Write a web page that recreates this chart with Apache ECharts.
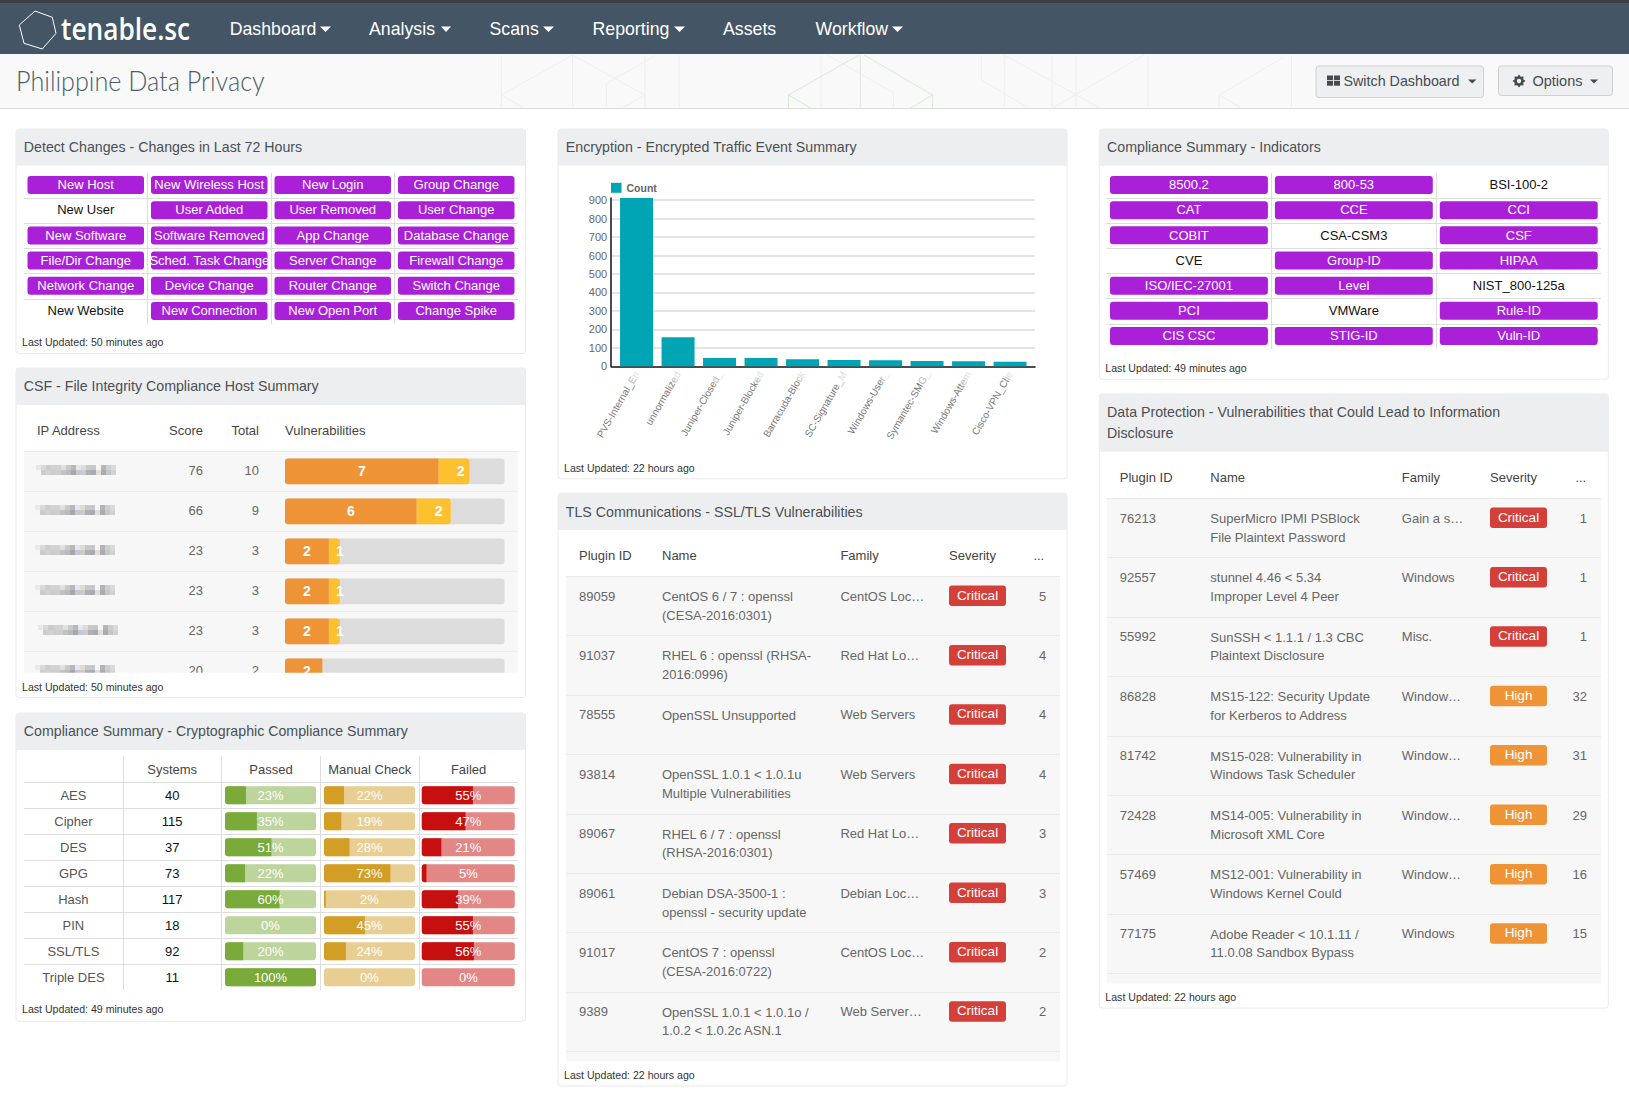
<!DOCTYPE html>
<html>
<head>
<meta charset="utf-8">
<title>Philippine Data Privacy</title>
<style>
  html, body { margin: 0; padding: 0; background: #fff; }
  #chart { width: 1629px; height: 1096px; }
</style>
<script src="https://cdn.jsdelivr.net/npm/echarts@6/dist/echarts.min.js"></script>
</head>
<body>
<div id="chart"></div>
<script>
// ---- data ----
const navItems = ['Dashboard', 'Analysis', 'Scans', 'Reporting', 'Assets', 'Workflow'];

const detectLabels = [
  'New Host', 'New Wireless Host', 'New Login', 'Group Change',
  'New User', 'User Added', 'User Removed', 'User Change',
  'New Software', 'Software Removed', 'App Change', 'Database Change',
  'File/Dir Change', 'Sched. Task Change', 'Server Change', 'Firewall Change',
  'Network Change', 'Device Change', 'Router Change', 'Switch Change',
  'New Website', 'New Connection', 'New Open Port', 'Change Spike'
];
const detectActive = [1,1,1,1, 0,1,1,1, 1,1,1,1, 1,1,1,1, 1,1,1,1, 0,1,1,1];

const indicatorLabels = [
  '8500.2', '800-53', 'BSI-100-2',
  'CAT', 'CCE', 'CCI',
  'COBIT', 'CSA-CSM3', 'CSF',
  'CVE', 'Group-ID', 'HIPAA',
  'ISO/IEC-27001', 'Level', 'NIST_800-125a',
  'PCI', 'VMWare', 'Rule-ID',
  'CIS CSC', 'STIG-ID', 'Vuln-ID'
];
const indicatorActive = [1,1,0, 1,1,1, 1,0,1, 0,1,1, 1,1,0, 1,0,1, 1,1,1];

const csfScores = [76, 66, 23, 23, 23, 20];
const csfTotals = [10, 9, 3, 3, 3, 2];
const csfHighCounts = [7, 6, 2, 2, 2, 2];
const csfMediumCounts = [2, 2, 1, 1, 1, 0];
const csfHighWidths = [70, 60, 20, 20, 20, 17];
const csfMediumWidths = [14, 15.5, 5, 5, 5, 0];
// the addresses are pixelated in the picture
const ipMosaicTop = ['#e8e8e6','#d8d8d8','#cccccc','#cfd1d3','#d0d2d4','#e2e0dc','#c8cacc','#b8b8b8','#e4e8ee','#dedcd8','#c8cac8','#c4c8c8','#f8f6f2','#b4b4ba','#ccced0','#d8dade'];
const ipMosaicBottom = ['#f6f6f6','#cccccc','#d4d2d0','#cccdce','#cdcdcd','#c2c2c2','#b8babc','#a8a8a8','#c4c8d0','#cccaca','#aeb0b2','#a8acb0','#e0dedc','#acacb0','#c4c6c8','#d0d2d4'];
const ipMosaicStart = [36, 35, 35, 35, 38, 35];

const cryptoNames = ['AES', 'Cipher', 'DES', 'GPG', 'Hash', 'PIN', 'SSL/TLS', 'Triple DES'];
const cryptoSystems = [40, 115, 37, 73, 117, 18, 92, 11];
const cryptoPassed = [23, 35, 51, 22, 60, 0, 20, 100];
const cryptoManual = [22, 19, 28, 73, 2, 45, 24, 0];
const cryptoFailed = [55, 47, 21, 5, 39, 55, 56, 0];

const eventNames = ['PVS-Internal_En', 'unnormalized', 'Juniper-Closed_', 'Juniper-Blocked', 'Barracuda-Block', 'SC-Signature_M', 'Windows-User_', 'Symantec-SMG_', 'Windows-Attem', 'Cisco-VPN_Clie'];
const eventCounts = [912, 157, 45, 45, 38, 34, 33, 29, 27, 25];

const tlsIds = ['89059', '91037', '78555', '93814', '89067', '89061', '91017', '9389'];
const tlsNames = [
  ['CentOS 6 / 7 : openssl', '(CESA-2016:0301)'],
  ['RHEL 6 : openssl (RHSA-', '2016:0996)'],
  ['OpenSSL Unsupported', ''],
  ['OpenSSL 1.0.1 < 1.0.1u', 'Multiple Vulnerabilities'],
  ['RHEL 6 / 7 : openssl', '(RHSA-2016:0301)'],
  ['Debian DSA-3500-1 :', 'openssl - security update'],
  ['CentOS 7 : openssl', '(CESA-2016:0722)'],
  ['OpenSSL 1.0.1 < 1.0.1o /', '1.0.2 < 1.0.2c ASN.1']
];
const tlsFamilies = ['CentOS Loc…', 'Red Hat Lo…', 'Web Servers', 'Web Servers', 'Red Hat Lo…', 'Debian Loc…', 'CentOS Loc…', 'Web Server…'];
const tlsSeverities = ['Critical', 'Critical', 'Critical', 'Critical', 'Critical', 'Critical', 'Critical', 'Critical'];
const tlsCounts = [5, 4, 4, 4, 3, 3, 2, 2];

const dpIds = ['76213', '92557', '55992', '86828', '81742', '72428', '57469', '77175'];
const dpNames = [
  ['SuperMicro IPMI PSBlock', 'File Plaintext Password'],
  ['stunnel 4.46 < 5.34', 'Improper Level 4 Peer'],
  ['SunSSH < 1.1.1 / 1.3 CBC', 'Plaintext Disclosure'],
  ['MS15-122: Security Update', 'for Kerberos to Address'],
  ['MS15-028: Vulnerability in', 'Windows Task Scheduler'],
  ['MS14-005: Vulnerability in', 'Microsoft XML Core'],
  ['MS12-001: Vulnerability in', 'Windows Kernel Could'],
  ['Adobe Reader < 10.1.11 /', '11.0.08 Sandbox Bypass']
];
const dpFamilies = ['Gain a s…', 'Windows', 'Misc.', 'Window…', 'Window…', 'Window…', 'Window…', 'Windows'];
const dpSeverities = ['Critical', 'Critical', 'Critical', 'High', 'High', 'High', 'High', 'High'];
const dpCounts = [1, 1, 1, 32, 31, 29, 16, 15];

// ---- helpers ----
const FONT = '"Liberation Sans", Arial, sans-serif';
const graphics = [];
const grids = [];
const xAxes = [];
const yAxes = [];
const series = [];

function textEl(x, y, text, o) {
  o = o || {};
  const size = o.size || 13;
  const font = (o.weight ? o.weight + ' ' : '') + size + 'px ' + (o.family || FONT);
  return {
    type: 'text', x: x, y: y, silent: true, z: o.z, scaleX: o.scaleX || 1,
    style: {
      text: text, font: font, fill: o.color || '#555',
      align: o.align || 'left', textAlign: o.align || 'left',
      verticalAlign: 'middle', textVerticalAlign: 'middle'
    }
  };
}

function addText(x, y, text, o) {
  o = o || {};
  o.z = o.z === undefined ? -5 : o.z;
  graphics.push(textEl(x, y, text, o));
}

function addRect(x, y, w, h, fill, o) {
  o = o || {};
  graphics.push({
    type: 'rect', silent: true, z: o.z === undefined ? -6 : o.z,
    shape: { x: x, y: y, width: w, height: h, r: o.r || 0 },
    style: { fill: fill, stroke: o.stroke, lineWidth: o.stroke ? 1 : 0 }
  });
}

function addPoly(points, fill, stroke, z) {
  graphics.push({
    type: stroke && !fill ? 'polyline' : 'polygon', silent: true, z: z === undefined ? -5 : z,
    shape: { points: points },
    style: { fill: fill || 'none', stroke: stroke, lineWidth: stroke ? 1 : 0 }
  });
}

function addGrid(box, xAxis, yAxis) {
  grids.push(box);
  xAxis.gridIndex = grids.length - 1;
  yAxis.gridIndex = grids.length - 1;
  xAxes.push(xAxis);
  yAxes.push(yAxis);
  return grids.length - 1;
}

function hiddenParts(axis) {
  axis.axisLine = { show: false };
  axis.axisTick = { show: false };
  axis.axisLabel = { show: false };
  return axis;
}

function ruledAxis(count, inverse, color) {
  return hiddenParts({
    type: 'category', inverse: inverse,
    data: Array.from({ length: count }, (_, i) => String(i)),
    splitLine: { show: true, interval: 0, showMinLine: false, showMaxLine: false, lineStyle: { color: color || '#ddd', width: 1 } }
  });
}

function addPanel(x, y, w, h, headH, titles, updated, footY, coverFrom) {
  addRect(x, y, w, h, '#fff', { r: 3, stroke: '#eaeaea', z: -9 });
  addRect(x, y, w, headH, '#edeef0', { r: [3, 3, 0, 0], z: -8 });
  titles.forEach((t, i) => addText(x + 7.8, y + 18.4 + i * 21, t, { size: 14.2, color: '#4a4f55' }));
  if (coverFrom) addRect(x + 1, coverFrom, w - 2, y + h - coverFrom - 1, '#fff', { z: 50 });
  addText(x + 6, footY, 'Last Updated: ' + updated, { size: 10.6, color: '#333', z: 51 });
}

// purple indicator tiles on two category axes
function addTileGrid(box, labels, active, cols) {
  const rows = labels.length / cols;
  const g = addGrid(box, ruledAxis(cols, false), ruledAxis(rows, true));
  series.push({
    type: 'custom', xAxisIndex: g, yAxisIndex: g, silent: true,
    data: labels.map((_, i) => [i % cols, Math.floor(i / cols)]),
    encode: { x: 0, y: 1 },
    renderItem: function (params, api) {
      const c = api.coord([api.value(0), api.value(1)]);
      const band = api.size([1, 1]);
      const on = active[params.dataIndex];
      const w = band[0] - 7;
      const children = [];
      if (on) {
        children.push({
          type: 'rect',
          shape: { x: c[0] - w / 2, y: c[1] - 9.5, width: w, height: 18, r: 3 },
          style: { fill: '#aa20d8' }
        });
      }
      children.push(textEl(c[0], c[1] - 0.8, labels[params.dataIndex], { size: 13, align: 'center', color: on ? '#fff' : '#111' }));
      return { type: 'group', children: children };
    }
  });
}

// ---- page chrome ----
addRect(0, 0, 1629, 54, '#445566', { z: -9 });
addRect(0, 0, 1629, 3, '#3a3f45', { z: -8 });
addRect(0, 54, 1629, 54, '#f9f9f9', { z: -9 });
addRect(0, 108, 1629, 1, '#dcdcdc', { z: -8 });

const bgLines = [
  [40,15,40,175],[173,15,173,175],[308,15,308,175],[236,100,236,175],[372,15,372,175],[637,15,637,175],
  [936,15,936,90],[979,15,979,175],[1068,15,1068,175],[1113,15,1113,175],[1247,15,1247,175],[1380,135,1380,175],[1515,15,1515,175],
  [40,135,173,15],[173,15,308,135],[308,135,265,175],[40,135,82,175],[236,100,330,15],
  [648,15,772,128],[772,128,772,175],[936,90,1025,175],[979,15,1158,175],[1240,15,1068,175],[1380,135,1500,22],[1380,135,1422,175]
];
const bgGreenLines = [[576,135,707,15],[717,15,845,135],[845,135,803,175],[576,135,618,175],[576,135,576,175],[710,15,710,175],[845,135,845,175]];
function addBgLines(lines, color) {
  lines.forEach(l => addPoly([[l[0] / 1.867 + 480, l[1] / 3 + 50], [l[2] / 1.867 + 480, l[3] / 3 + 50]], null, color, -7));
}
addBgLines(bgLines, '#efefef');
addBgLines(bgGreenLines, '#d8ecd4');

addPoly([[35, 11], [52.3, 17.3], [56, 33.3], [42.3, 49], [24, 43.3], [19.3, 25], [35, 11]], null, '#ffffff');
addText(61, 28, 'tenable.sc', { size: 30, color: '#fff', weight: 600, family: '"Open Sans", sans-serif', scaleX: 0.875 });

const navX = [229.7, 369, 489.5, 592.5, 723, 815.6];
navItems.forEach((t, i) => {
  addText(navX[i], 29, t, { size: 18, color: '#fff', scaleX: 0.985 });
});
[[320, 331], [441, 451], [543, 554], [674, 685], null, [892, 903]].forEach(c => {
  if (c) addPoly([[c[0], 26.5], [c[1], 26.5], [(c[0] + c[1]) / 2, 32]], '#fff');
});

addText(16, 80, 'Philippine Data Privacy', { size: 28, color: '#4a5c6e', weight: 300, family: 'Lato, sans-serif', scaleX: 0.9 });

addRect(1316, 66, 167.5, 31.5, '#eeeff1', { r: 3, stroke: '#cfcfcf' });
[[1327, 75.5], [1334, 75.5], [1327, 81], [1334, 81]].forEach(p => addRect(p[0], p[1], 6, 4.7, '#444b52', { z: -5 }));
addText(1343.5, 81, 'Switch Dashboard', { size: 14.3, color: '#444b52' });
addPoly([[1468, 79.5], [1476.5, 79.5], [1472.2, 83.5]], '#444b52');
addRect(1498.5, 66, 114, 29.5, '#eeeff1', { r: 3, stroke: '#cfcfcf' });
// gear icon of the Options button
const gearPoints = [];
for (let i = 0; i < 16; i++) {
  const r = i % 2 === 0 ? 6.4 : 4.6;
  const a = (i * Math.PI) / 8;
  gearPoints.push([1519 + r * Math.cos(a), 81 + r * Math.sin(a)]);
}
addPoly(gearPoints, '#444b52');
graphics.push({ type: 'circle', silent: true, z: -4, shape: { cx: 1519, cy: 81, r: 2.2 }, style: { fill: '#eeeff1' } });
addText(1532.5, 81, 'Options', { size: 14.5, color: '#444b52' });
addPoly([[1590, 79.5], [1598, 79.5], [1594, 83.5]], '#444b52');

// ---- Detect Changes ----
addPanel(16, 129, 509.5, 224.5, 36.7, ['Detect Changes - Changes in Last 72 Hours'], '50 minutes ago', 342);
addTileGrid({ left: 24, top: 173, width: 494, height: 151 }, detectLabels, detectActive, 4);

// ---- CSF host summary ----
addPanel(16, 368, 509.5, 329.5, 37, ['CSF - File Integrity Compliance Host Summary'], '50 minutes ago', 686.5, 672.7);
addText(37, 430.3, 'IP Address', { color: '#444' });
addText(203, 430.3, 'Score', { color: '#444', align: 'right' });
addText(259, 430.3, 'Total', { color: '#444', align: 'right' });
addText(285, 430.3, 'Vulnerabilities', { color: '#444' });

function stripedRows(count, showMaxLine) {
  return hiddenParts({
    type: 'category', inverse: true,
    data: Array.from({ length: count }, (_, i) => String(i)),
    splitArea: { show: true, areaStyle: { color: ['#f7f7f7', '#f7f7f7'] } },
    splitLine: { show: true, interval: 0, showMinLine: true, showMaxLine: !!showMaxLine, lineStyle: { color: '#ebebeb', width: 1 } }
  });
}
function pixelAxis(width) {
  return hiddenParts({ type: 'value', min: 0, max: width, splitLine: { show: false } });
}

const csfGrid = addGrid({ left: 24, top: 451.3, width: 494, height: 240 }, pixelAxis(494), stripedRows(csfScores.length));
series.push({
  type: 'custom', xAxisIndex: csfGrid, yAxisIndex: csfGrid, silent: true,
  data: csfScores.map((_, i) => [0, i]),
  encode: { x: 0, y: 1 },
  renderItem: function (params, api) {
    const i = params.dataIndex;
    const c = api.coord([0, api.value(1)]);
    const children = [
      textEl(c[0] + 179, c[1] - 0.4, String(csfScores[i]), { align: 'right', color: '#666' }),
      textEl(c[0] + 235, c[1] - 0.4, String(csfTotals[i]), { align: 'right', color: '#666' })
    ];
    ipMosaicTop.forEach((shade, k) => {
      children.push({ type: 'rect', shape: { x: ipMosaicStart[i] + k * 5, y: c[1] - 6.3, width: 5, height: 5 }, style: { fill: shade } });
    });
    ipMosaicBottom.forEach((shade, k) => {
      children.push({ type: 'rect', shape: { x: ipMosaicStart[i] + k * 5, y: c[1] - 1.3, width: 5, height: 5 }, style: { fill: shade } });
    });
    return { type: 'group', children: children };
  }
});

function csfBarData(widths, counts) {
  return widths.map((w, i) => ({
    value: w,
    label: { show: counts[i] > 0, formatter: String(counts[i]), position: 'insideLeft', distance: 0, align: 'center', offset: [Math.min(counts[i] * 11, w * 2.195 * 0.5 + 8), 0] }
  }));
}
const csfBars = addGrid({ left: 285, top: 451.3, width: 219.5, height: 240 },
  hiddenParts({ type: 'value', min: 0, max: 100, splitLine: { show: false } }),
  hiddenParts({ type: 'category', inverse: true, data: csfScores.map(String) }));
const csfLabel = { color: '#fff', fontSize: 14, fontWeight: 'bold', fontFamily: FONT };
series.push({
  type: 'bar', xAxisIndex: csfBars, yAxisIndex: csfBars, stack: 'vuln', barWidth: 25.7, silent: true,
  showBackground: true, backgroundStyle: { color: '#dcdcdc', borderRadius: 3 },
  itemStyle: { color: '#ee9336', borderRadius: [3, 0, 0, 3] },
  label: csfLabel, data: csfBarData(csfHighWidths, csfHighCounts)
});
series.push({
  type: 'bar', xAxisIndex: csfBars, yAxisIndex: csfBars, stack: 'vuln', barWidth: 25.7, silent: true,
  itemStyle: { color: '#fdc02f', borderRadius: [0, 3, 3, 0] },
  label: csfLabel, data: csfBarData(csfMediumWidths, csfMediumCounts)
});

// ---- Cryptographic compliance ----
addPanel(16, 713, 509.5, 308.3, 37, ['Compliance Summary - Cryptographic Compliance Summary'], '49 minutes ago', 1009);
const cryptoTable = addGrid({ left: 24, top: 756.3, width: 494, height: 234 }, ruledAxis(5, false), ruledAxis(9, true));
const cryptoCells = [];
['', 'Systems', 'Passed', 'Manual Check', 'Failed'].forEach((t, c) => cryptoCells.push([c, 0, t, '#444']));
cryptoNames.forEach((t, r) => {
  cryptoCells.push([0, r + 1, t, '#555']);
  cryptoCells.push([1, r + 1, String(cryptoSystems[r]), '#111']);
});
series.push({
  type: 'custom', xAxisIndex: cryptoTable, yAxisIndex: cryptoTable, silent: true,
  data: cryptoCells.map(c => [c[0], c[1]]),
  encode: { x: 0, y: 1 },
  renderItem: function (params, api) {
    const c = api.coord([api.value(0), api.value(1)]);
    const cell = cryptoCells[params.dataIndex];
    return textEl(c[0], c[1] + 0.2, cell[2], { color: cell[3], align: 'center' });
  }
});

function addPercentBars(left, width, values, dark, light) {
  const g = addGrid({ left: left, top: 782.3, width: width, height: 208 },
    hiddenParts({ type: 'value', min: 0, max: 100, splitLine: { show: false } }),
    hiddenParts({ type: 'category', inverse: true, data: cryptoNames }));
  const full = values.map(() => 100);
  const common = { type: 'bar', xAxisIndex: g, yAxisIndex: g, barWidth: 18, barGap: '-100%', silent: true };
  series.push(Object.assign({}, common, { z: 2, itemStyle: { color: light, borderRadius: 3 }, data: full }));
  series.push(Object.assign({}, common, {
    z: 3,
    data: values.map(v => ({ value: v, itemStyle: { color: dark, borderRadius: v === 100 ? 3 : [3, 0, 0, 3] } }))
  }));
  series.push(Object.assign({}, common, {
    z: 4, itemStyle: { color: 'transparent' }, data: full,
    label: {
      show: true, position: 'inside', color: '#fff', fontSize: 13, fontFamily: FONT,
      formatter: p => values[p.dataIndex] + '%'
    }
  }));
}
addPercentBars(225, 91, cryptoPassed, '#7aab3a', '#bdd49d');
addPercentBars(324, 91, cryptoManual, '#d39e26', '#e8ce93');
addPercentBars(421.8, 93, cryptoFailed, '#c6100f', '#e28686');

// ---- Encrypted traffic chart ----
addPanel(558, 129, 509, 349.8, 36.7, ['Encryption - Encrypted Traffic Event Summary'], '22 hours ago', 467.8);
const axisGrid = addGrid({ left: 611.2, top: 198, width: 423.8, height: 168.3 },
  {
    type: 'value', min: 0, max: 1, splitLine: { show: false }, axisTick: { show: false }, axisLabel: { show: false },
    axisLine: { show: true, lineStyle: { color: '#111', width: 1.5 } }
  },
  {
    type: 'value', min: 0, max: 912, interval: 100,
    axisTick: { show: false },
    axisLine: { show: true, lineStyle: { color: '#111', width: 1.5 } },
    axisLabel: { margin: 4, fontSize: 11, color: '#666', fontFamily: FONT, showMaxLabel: false },
    splitLine: { show: true, showMaxLine: false, showMinLine: false, lineStyle: { color: '#ddd', width: 1.5 } }
  });
const barGrid = addGrid({ left: 615.8, top: 198, width: 415, height: 168.3 },
  {
    type: 'category', data: eventNames,
    axisLine: { show: false }, axisTick: { show: false },
    axisLabel: {
      interval: 0, rotate: 60, margin: 6, fontSize: 10, fontFamily: FONT,
      formatter: function (v) {
        return '{a|' + v.slice(0, -2) + '}{b|' + v.charAt(v.length - 2) + '}{c|' + v.charAt(v.length - 1) + '}';
      },
      rich: {
        a: { color: '#777', fontSize: 10, fontFamily: FONT },
        b: { color: '#b5b5b5', fontSize: 10, fontFamily: FONT },
        c: { color: '#dedede', fontSize: 10, fontFamily: FONT }
      }
    }
  },
  hiddenParts({ type: 'value', min: 0, max: 912, interval: 100, splitLine: { show: false } }));
series.push({
  name: 'Count', type: 'bar', xAxisIndex: barGrid, yAxisIndex: barGrid, barWidth: 33, silent: true,
  itemStyle: { color: '#00a5b5' }, data: eventCounts
});

// ---- plugin tables ----
function addPluginTable(t) {
  addText(t.left + 13, t.headY, 'Plugin ID', { color: '#444' });
  addText(t.left + t.nameX, t.headY, 'Name', { color: '#444' });
  addText(t.left + t.familyX, t.headY, 'Family', { color: '#444' });
  addText(t.left + t.severityX, t.headY, 'Severity', { color: '#444' });
  addText(t.left + t.moreX, t.headY, '...', { color: '#444' });
  const rows = t.ids.length;
  const g = addGrid({ left: t.left, top: t.top, width: t.width, height: rows * 59.4 }, pixelAxis(t.width), stripedRows(rows, true));
  addRect(t.left, t.top + rows * 59.4, t.width, t.stripeEnd - t.top - rows * 59.4, '#f7f7f7', { z: -7 });
  series.push({
    type: 'custom', xAxisIndex: g, yAxisIndex: g, silent: true,
    data: t.ids.map((_, i) => [0, i]),
    encode: { x: 0, y: 1 },
    renderItem: function (params, api) {
      const i = params.dataIndex;
      const c = api.coord([0, api.value(1)]);
      const critical = t.severities[i] === 'Critical';
      const top = c[1] - 9.9;
      return {
        type: 'group',
        children: [
          textEl(c[0] + 13, top, t.ids[i], { color: '#666' }),
          textEl(c[0] + t.nameX, top + 0.3, t.names[i][0], { color: '#666' }),
          textEl(c[0] + t.nameX, top + 19, t.names[i][1], { color: '#666' }),
          textEl(c[0] + t.familyX, top, t.families[i], { color: '#666' }),
          {
            type: 'rect',
            shape: { x: c[0] + t.severityX, y: top - 10.6, width: 57, height: 20.5, r: 3 },
            style: { fill: critical ? '#d43f3a' : '#ee9336' }
          },
          textEl(c[0] + t.severityX + 28.5, top - 1, t.severities[i], { color: '#fff', size: 13.5, align: 'center' }),
          textEl(c[0] + t.countX, top, String(t.counts[i]), { color: '#666', align: 'right' })
        ]
      };
    }
  });
}

addPanel(558, 493.3, 509, 592.6, 36.7, ['TLS Communications - SSL/TLS Vulnerabilities'], '22 hours ago', 1075.3);
addPluginTable({
  left: 566, top: 576.3, width: 494, headY: 555.7, stripeEnd: 1061.5,
  nameX: 96, familyX: 274.4, severityX: 383, moreX: 467.4, countX: 480.3,
  ids: tlsIds, names: tlsNames, families: tlsFamilies, severities: tlsSeverities, counts: tlsCounts
});

// ---- Compliance indicators ----
addPanel(1099.3, 129, 509, 250.3, 36.7, ['Compliance Summary - Indicators'], '49 minutes ago', 367.8);
addTileGrid({ left: 1106.5, top: 173, width: 494.7, height: 176 }, indicatorLabels, indicatorActive, 3);

// ---- Data protection ----
addPanel(1099.3, 394, 509, 614, 57.7, ['Data Protection - Vulnerabilities that Could Lead to Information', 'Disclosure'], '22 hours ago', 997);
addPluginTable({
  left: 1106.8, top: 498.3, width: 494.2, headY: 477.3, stripeEnd: 983.5,
  nameX: 103.5, familyX: 295, severityX: 383.2, moreX: 468.6, countX: 480.2,
  ids: dpIds, names: dpNames, families: dpFamilies, severities: dpSeverities, counts: dpCounts
});

// ---- draw ----
const chart = echarts.init(document.getElementById('chart'), null, { renderer: 'svg' });
chart.setOption({
  animation: false,
  backgroundColor: '#fff',
  tooltip: { show: false },
  legend: {
    data: ['Count'], left: 611, top: 182.3, padding: 0, icon: 'rect', itemWidth: 10.5, itemHeight: 10, selectedMode: false,
    textStyle: { fontSize: 10.5, fontWeight: 'bold', color: '#666', fontFamily: FONT }
  },
  grid: grids,
  xAxis: xAxes,
  yAxis: yAxes,
  series: series,
  graphic: { elements: graphics }
});
</script>
</body>
</html>
